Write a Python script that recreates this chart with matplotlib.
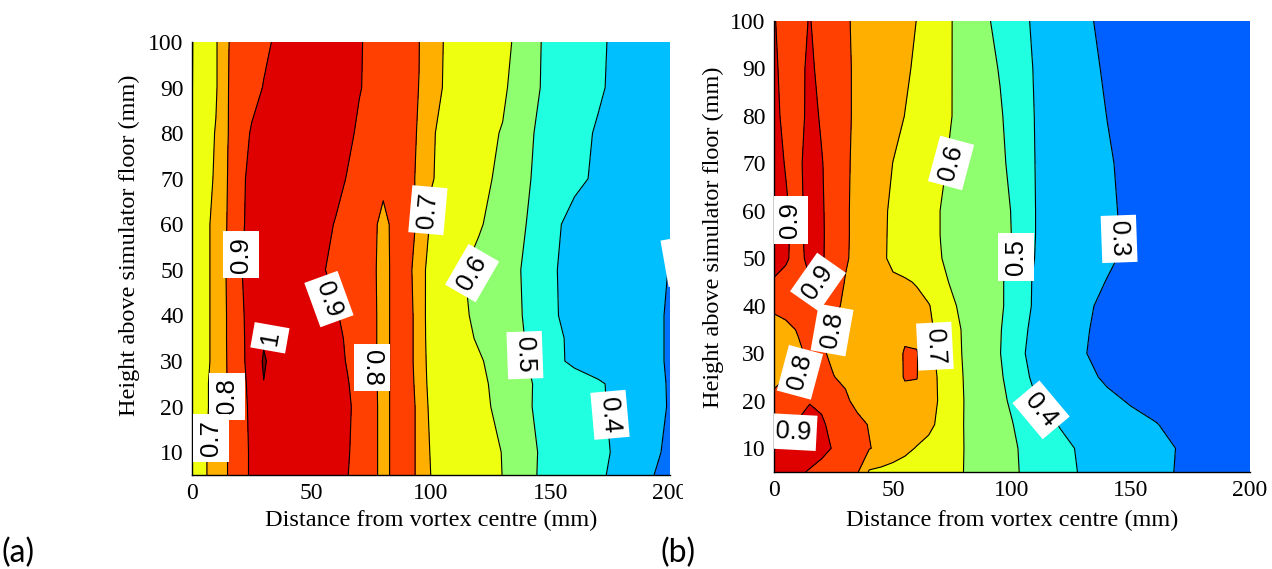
import matplotlib.pyplot as plt
from matplotlib.patches import Rectangle
import numpy as np

# ---------- grid: distance from vortex centre (mm) ----------
dist_mm = [0, 5, 10, 15, 20, 25, 30, 35, 40, 45, 50, 55, 60, 65, 70, 75, 80, 85, 90, 95,
           100, 110, 120, 130, 140, 150, 160, 170, 180, 190, 200]

# ---------- (a) heights and measured ratio ----------
height_a = [5, 10, 20, 25, 30, 35, 40, 50, 60, 70, 80, 90, 100]
ratio_a = [
    [0.655, 0.69, 0.73, 0.802, 0.86, 0.915, 0.94, 0.955, 0.955, 0.955, 0.95, 0.94, 0.925, 0.902, 0.875, 0.84, 0.765, 0.83, 0.82, 0.79, 0.698, 0.67, 0.635, 0.599, 0.53, 0.46, 0.44, 0.41, 0.38, 0.315, 0.27],
    [0.655, 0.69, 0.73, 0.802, 0.86, 0.915, 0.945, 0.96, 0.96, 0.96, 0.955, 0.945, 0.93, 0.905, 0.88, 0.84, 0.765, 0.83, 0.82, 0.79, 0.69, 0.66, 0.63, 0.598, 0.53, 0.465, 0.445, 0.415, 0.385, 0.325, 0.285],
    [0.65, 0.685, 0.725, 0.802, 0.865, 0.92, 0.95, 0.96, 0.96, 0.96, 0.955, 0.945, 0.935, 0.91, 0.88, 0.84, 0.765, 0.83, 0.82, 0.79, 0.67, 0.645, 0.615, 0.585, 0.512, 0.46, 0.44, 0.41, 0.38, 0.33, 0.295],
    [0.65, 0.685, 0.725, 0.805, 0.87, 0.925, 0.998, 0.96, 0.96, 0.96, 0.955, 0.945, 0.93, 0.905, 0.87, 0.835, 0.765, 0.83, 0.82, 0.785, 0.655, 0.635, 0.61, 0.585, 0.51, 0.47, 0.445, 0.41, 0.375, 0.325, 0.295],
    [0.645, 0.68, 0.72, 0.808, 0.878, 0.93, 1.01, 0.965, 0.965, 0.96, 0.955, 0.945, 0.925, 0.895, 0.865, 0.83, 0.765, 0.83, 0.82, 0.78, 0.645, 0.625, 0.605, 0.58, 0.502, 0.43, 0.38, 0.36, 0.34, 0.315, 0.295],
    [0.645, 0.68, 0.72, 0.81, 0.88, 0.93, 0.99, 0.965, 0.965, 0.96, 0.95, 0.94, 0.92, 0.89, 0.86, 0.83, 0.765, 0.83, 0.82, 0.78, 0.635, 0.62, 0.595, 0.555, 0.495, 0.42, 0.385, 0.36, 0.34, 0.315, 0.295],
    [0.645, 0.68, 0.72, 0.81, 0.88, 0.935, 0.955, 0.965, 0.965, 0.96, 0.95, 0.935, 0.91, 0.875, 0.855, 0.83, 0.765, 0.83, 0.82, 0.78, 0.63, 0.615, 0.59, 0.545, 0.49, 0.41, 0.38, 0.36, 0.34, 0.315, 0.295],
    [0.645, 0.68, 0.72, 0.815, 0.89, 0.94, 0.955, 0.965, 0.96, 0.95, 0.935, 0.905, 0.875, 0.855, 0.84, 0.825, 0.765, 0.83, 0.82, 0.77, 0.64, 0.62, 0.572, 0.531, 0.49, 0.408, 0.38, 0.36, 0.34, 0.32, 0.298],
    [0.64, 0.675, 0.725, 0.807, 0.877, 0.935, 0.95, 0.96, 0.96, 0.955, 0.945, 0.925, 0.895, 0.87, 0.85, 0.83, 0.77, 0.83, 0.822, 0.79, 0.685, 0.65, 0.61, 0.555, 0.499, 0.425, 0.37, 0.35, 0.335, 0.318, 0.305],
    [0.635, 0.67, 0.71, 0.803, 0.873, 0.93, 0.95, 0.96, 0.965, 0.965, 0.96, 0.95, 0.93, 0.895, 0.875, 0.855, 0.828, 0.832, 0.818, 0.79, 0.705, 0.665, 0.625, 0.58, 0.51, 0.455, 0.42, 0.385, 0.36, 0.345, 0.335],
    [0.625, 0.66, 0.705, 0.798, 0.853, 0.91, 0.93, 0.945, 0.955, 0.96, 0.96, 0.955, 0.945, 0.92, 0.885, 0.87, 0.855, 0.838, 0.818, 0.795, 0.71, 0.655, 0.627, 0.595, 0.52, 0.455, 0.425, 0.392, 0.37, 0.35, 0.34],
    [0.598, 0.648, 0.69, 0.798, 0.833, 0.868, 0.904, 0.925, 0.94, 0.95, 0.955, 0.955, 0.95, 0.935, 0.905, 0.88, 0.862, 0.843, 0.822, 0.799, 0.72, 0.678, 0.643, 0.615, 0.54, 0.47, 0.443, 0.41, 0.375, 0.355, 0.345],
    [0.597, 0.645, 0.69, 0.797, 0.826, 0.854, 0.882, 0.91, 0.93, 0.945, 0.95, 0.95, 0.945, 0.935, 0.91, 0.874, 0.864, 0.842, 0.821, 0.802, 0.72, 0.681, 0.647, 0.632, 0.547, 0.47, 0.445, 0.413, 0.377, 0.36, 0.35],
]

# ---------- (b) heights and measured ratio ----------
height_b = [5, 10, 15, 20, 25, 30, 35, 40, 45, 50, 55, 60, 70, 80, 90, 100]
ratio_b = [
    [0.92, 0.915, 0.91, 0.895, 0.875, 0.85, 0.83, 0.81, 0.69, 0.68, 0.67, 0.66, 0.65, 0.64, 0.625, 0.612, 0.599, 0.577, 0.555, 0.535, 0.513, 0.47, 0.43, 0.39, 0.365, 0.345, 0.32, 0.295, 0.285, 0.28, 0.275],
    [0.93, 0.935, 0.935, 0.93, 0.92, 0.895, 0.865, 0.835, 0.805, 0.775, 0.745, 0.72, 0.695, 0.675, 0.65, 0.625, 0.599, 0.575, 0.55, 0.53, 0.51, 0.47, 0.425, 0.385, 0.36, 0.34, 0.32, 0.297, 0.285, 0.275, 0.27],
    [0.86, 0.88, 0.91, 0.93, 0.915, 0.87, 0.85, 0.825, 0.795, 0.77, 0.755, 0.75, 0.745, 0.72, 0.68, 0.645, 0.597, 0.575, 0.55, 0.525, 0.503, 0.448, 0.396, 0.374, 0.35, 0.327, 0.304, 0.28, 0.27, 0.265, 0.26],
    [0.82, 0.84, 0.86, 0.895, 0.88, 0.855, 0.815, 0.775, 0.755, 0.75, 0.755, 0.77, 0.77, 0.745, 0.685, 0.645, 0.598, 0.57, 0.545, 0.515, 0.49, 0.405, 0.37, 0.345, 0.32, 0.292, 0.275, 0.265, 0.26, 0.255, 0.255],
    [0.78, 0.799, 0.82, 0.84, 0.845, 0.802, 0.785, 0.77, 0.76, 0.755, 0.765, 0.806, 0.803, 0.735, 0.685, 0.64, 0.595, 0.565, 0.535, 0.51, 0.47, 0.375, 0.355, 0.325, 0.285, 0.265, 0.255, 0.25, 0.25, 0.25, 0.25],
    [0.76, 0.765, 0.785, 0.815, 0.81, 0.785, 0.77, 0.76, 0.755, 0.75, 0.76, 0.808, 0.806, 0.725, 0.675, 0.635, 0.59, 0.56, 0.53, 0.502, 0.45, 0.36, 0.343, 0.305, 0.27, 0.258, 0.255, 0.25, 0.25, 0.25, 0.25],
    [0.77, 0.78, 0.805, 0.83, 0.825, 0.79, 0.775, 0.765, 0.755, 0.75, 0.745, 0.78, 0.77, 0.72, 0.67, 0.625, 0.59, 0.565, 0.535, 0.505, 0.46, 0.37, 0.338, 0.309, 0.275, 0.262, 0.258, 0.255, 0.25, 0.25, 0.25],
    [0.815, 0.83, 0.845, 0.85, 0.845, 0.82, 0.785, 0.77, 0.76, 0.75, 0.74, 0.73, 0.72, 0.705, 0.66, 0.61, 0.58, 0.56, 0.54, 0.515, 0.465, 0.385, 0.355, 0.316, 0.28, 0.265, 0.26, 0.255, 0.25, 0.25, 0.25],
    [0.895, 0.875, 0.865, 0.895, 0.885, 0.85, 0.795, 0.77, 0.755, 0.72, 0.712, 0.708, 0.695, 0.66, 0.62, 0.59, 0.57, 0.55, 0.53, 0.51, 0.477, 0.384, 0.362, 0.329, 0.297, 0.275, 0.265, 0.26, 0.255, 0.255, 0.25],
    [0.92, 0.91, 0.87, 0.925, 0.91, 0.86, 0.81, 0.775, 0.745, 0.714, 0.684, 0.665, 0.645, 0.624, 0.602, 0.584, 0.567, 0.549, 0.532, 0.514, 0.491, 0.395, 0.37, 0.34, 0.312, 0.283, 0.27, 0.265, 0.26, 0.255, 0.255],
    [0.935, 0.912, 0.87, 0.935, 0.912, 0.86, 0.81, 0.78, 0.748, 0.716, 0.684, 0.666, 0.644, 0.622, 0.599, 0.583, 0.566, 0.549, 0.533, 0.516, 0.499, 0.399, 0.371, 0.342, 0.314, 0.285, 0.272, 0.265, 0.26, 0.255, 0.255],
    [0.935, 0.91, 0.87, 0.935, 0.91, 0.86, 0.81, 0.78, 0.749, 0.717, 0.686, 0.667, 0.645, 0.622, 0.599, 0.583, 0.565, 0.548, 0.532, 0.515, 0.498, 0.399, 0.371, 0.342, 0.313, 0.283, 0.27, 0.265, 0.26, 0.255, 0.255],
    [0.93, 0.895, 0.88, 0.935, 0.905, 0.86, 0.81, 0.785, 0.76, 0.73, 0.699, 0.678, 0.655, 0.633, 0.61, 0.59, 0.571, 0.552, 0.533, 0.513, 0.486, 0.397, 0.368, 0.338, 0.308, 0.28, 0.27, 0.26, 0.255, 0.25, 0.25],
    [0.925, 0.875, 0.86, 0.93, 0.89, 0.855, 0.81, 0.79, 0.764, 0.743, 0.721, 0.699, 0.675, 0.65, 0.625, 0.599, 0.577, 0.554, 0.531, 0.508, 0.473, 0.395, 0.364, 0.332, 0.299, 0.275, 0.265, 0.255, 0.25, 0.25, 0.25],
    [0.915, 0.87, 0.87, 0.92, 0.87, 0.85, 0.81, 0.79, 0.768, 0.748, 0.73, 0.71, 0.69, 0.657, 0.629, 0.599, 0.574, 0.547, 0.521, 0.495, 0.456, 0.392, 0.358, 0.324, 0.29, 0.27, 0.26, 0.25, 0.245, 0.245, 0.245],
    [0.905, 0.87, 0.87, 0.905, 0.86, 0.845, 0.81, 0.785, 0.772, 0.754, 0.736, 0.718, 0.699, 0.667, 0.633, 0.599, 0.569, 0.538, 0.506, 0.475, 0.44, 0.386, 0.351, 0.315, 0.28, 0.26, 0.25, 0.245, 0.24, 0.24, 0.24],
]

levels = [0.2, 0.3, 0.4, 0.5, 0.6, 0.7, 0.8, 0.9, 1.0, 1.1]
line_levels = levels[1:-1]

# jet-style band colours, low -> high
bands_a = ["#0070ff", "#00bfff", "#20ffdf", "#8fff6f", "#efff10", "#ffaf00", "#ff4000", "#df0000", "#800000"]
bands_b = ["#0060ff", "#00bfff", "#20ffdf", "#8fff6f", "#efff10", "#ffaf00", "#ff4000", "#df0000", "#800000"]

# inline contour labels: (level, x, y, rotation)
labels_a = [(0.9, 20.5, 53.3, 90), (0.9, 57.3, 43.6, -70), (1.0, 32.6, 35.1, 80),
            (0.8, 14.6, 22.3, 90), (0.7, 7.9, 13.1, 90), (0.8, 75.3, 28.5, -90),
            (0.7, 98.7, 63.1, 85), (0.6, 117.2, 49.3, 60), (0.5, 139.3, 31.3, -88),
            (0.4, 174.9, 18.2, -85), (0.3, 205.0, 52.0, -80)]
labels_b = [(0.9, 6.7, 58.1, 90), (0.9, 18.5, 45.0, 55), (0.8, 24.4, 34.9, 80),
            (0.8, 10.9, 26.0, 75), (0.9, 8.0, 13.4, -3), (0.6, 74.4, 70.1, 75),
            (0.7, 67.6, 31.5, -87), (0.5, 101.7, 50.3, 90), (0.3, 145.0, 54.1, -88),
            (0.4, 112.2, 18.1, -50)]

serif = "Liberation Serif"
fig = plt.figure(figsize=(12.72, 5.69), dpi=100)
ax_a = fig.add_axes([192 / 1272, 1 - 475 / 569, 478 / 1272, 433 / 569])
ax_b = fig.add_axes([774 / 1272, 1 - 472 / 569, 476 / 1272, 451 / 569])


def draw_panel(ax, heights, ratio, bands, labels, ylab_pos, xpad):
    X, Y = np.meshgrid(dist_mm, heights)
    Z = np.array(ratio)
    ax.contourf(X, Y, Z, levels=levels, colors=bands)
    ax.contour(X, Y, Z, levels=line_levels, colors="k", linewidths=0.8)
    for lev, lx, ly, rot in labels:
        ax.text(lx, ly, f"{lev:g}", rotation=rot, rotation_mode="anchor",
                ha="center", va="center", fontsize=18.5, family="Liberation Sans",
                bbox=dict(boxstyle="square,pad=0.22", fc="white", ec="none"),
                zorder=5, clip_on=True)
    ax.set_xlim(0, 200)
    ax.set_ylim(5, 100)
    ax.set_xticks([0, 50, 100, 150, 200])
    ax.set_yticks(range(10, 101, 10))
    for s in ("top", "right"):
        ax.spines[s].set_visible(False)
    for s in ("left", "bottom"):
        ax.spines[s].set_linewidth(1.0)
    ax.tick_params(length=0, pad=6, labelsize=17)
    for t in ax.get_xticklabels() + ax.get_yticklabels():
        t.set_family(serif)
    ax.set_xlabel("Distance from vortex centre (mm)", family=serif, fontsize=17.5, labelpad=xpad)
    ax.set_ylabel("Height above simulator floor (mm)", family=serif, fontsize=17.5)
    ax.yaxis.set_label_coords(*ylab_pos)


draw_panel(ax_a, height_a, ratio_a, bands_a, labels_a, (-0.109, 0.531), 4)
draw_panel(ax_b, height_b, ratio_b, bands_b, labels_b, (-0.105, 0.521), 6)

# the left figure is trimmed just past its last tick label
fig.patches.append(Rectangle((683 / 1272, 0.08), 20 / 1272, 0.09, transform=fig.transFigure,
                             fc="white", ec="none", zorder=10))

fig.text(0.001, 1 - 553 / 569, "(a)", family="Lato", fontsize=23, ha="left", va="center")
fig.text(661 / 1272, 1 - 553 / 569, "(b)", family="Lato", fontsize=23, ha="left", va="center")

fig.savefig("out.png", dpi=100)
